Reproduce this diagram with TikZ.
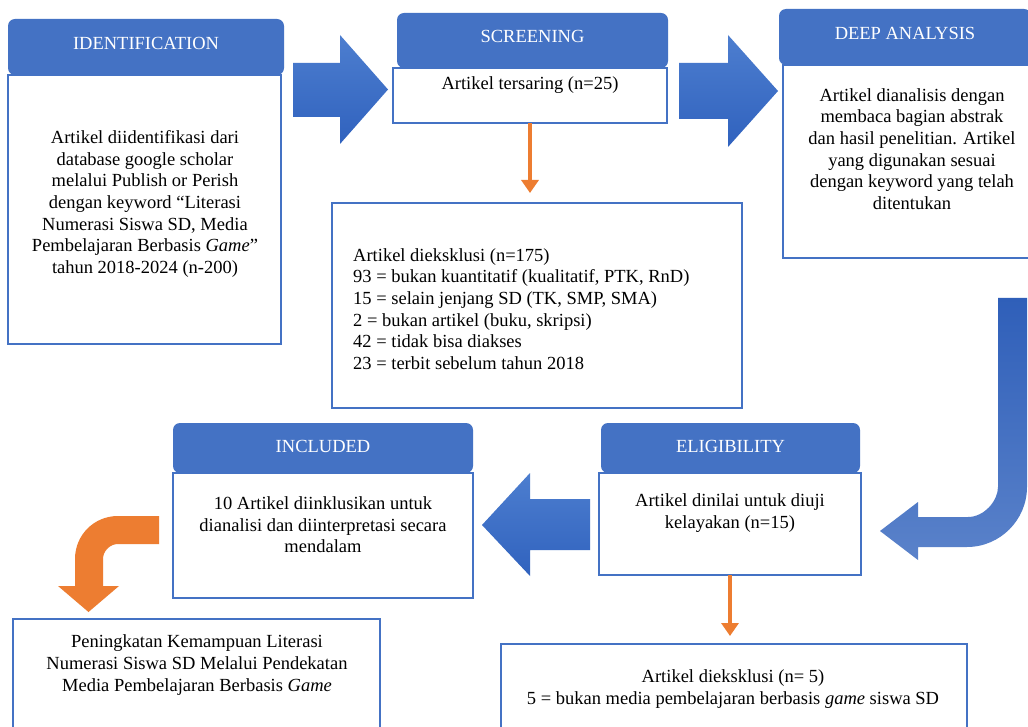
\documentclass[tikz,border=0pt]{standalone}
\usepackage{fontspec}
\setmainfont{Liberation Serif}
\usetikzlibrary{arrows.meta}
\definecolor{hdr}{HTML}{4472C4}
\definecolor{orn}{HTML}{ED7D31}
\definecolor{arrtop}{HTML}{4D7ECF}
\definecolor{arrbot}{HTML}{3062BE}
\definecolor{curtop}{HTML}{2F5FB9}
\definecolor{curbot}{HTML}{5A82CA}
\begin{document}
\begin{tikzpicture}[x=1pt,y=-1pt,
  hdrbox/.style={fill=hdr, draw=none, rounded corners=7pt, text=white,
    font=\fontsize{18.5}{21.6}\selectfont, inner sep=0pt, outer sep=0pt,
    text height=12.3pt, text depth=8pt},
  bodybox/.style={draw=hdr, line width=1.8pt, fill=white, inner sep=0pt, outer sep=0pt},
  txt/.style={font=\fontsize{18.5}{21.6}\selectfont, align=center, inner sep=0pt},
  txtl/.style={font=\fontsize{18.5}{21.6}\selectfont, align=left, inner sep=0pt, anchor=west},
  bigarrow/.style={top color=arrtop, bottom color=arrbot, draw=none},
  thinarrow/.style={draw=orn, line width=3.6pt, -{Triangle[length=13pt,width=17pt]}}
]
\fill[white] (0,0) rectangle (1028,727);
\useasboundingbox (0,0) rectangle (1028,727);

% IDENTIFICATION
\node[bodybox, minimum width=273pt, minimum height=269pt] (idb) at (144.5,209.5) {};
\node[hdrbox, minimum width=276pt, minimum height=56pt] (idh) at (146,47) {IDENTIFICATION};
\node[txt] (idt) at (145,204) {Artikel diidentifikasi dari\\database google scholar\\melalui Publish or Perish\\dengan keyword “Literasi\\Numerasi Siswa SD, Media\\Pembelajaran Berbasis \textit{Game}”\\tahun 2018-2024 (n-200)};

% SCREENING
\node[bodybox, minimum width=274pt, minimum height=55pt] (scrb) at (530,95.5) {};
\node[hdrbox, minimum width=271pt, minimum height=55pt] (scrh) at (532.5,40.5) {SCREENING};
\node[txt] (scrt) at (530,85) {Artikel tersaring (n=25)};

% DEEP ANALYSIS
\node[bodybox, minimum width=250pt, minimum height=193pt] (dab) at (908,161.5) {};
\node[hdrbox, minimum width=252pt, minimum height=56pt] (dah) at (905,37) {DEEP ANALYSIS};
\node[txt] (dat) at (912,149) {Artikel dianalisis dengan\\membaca bagian abstrak\\dan hasil penelitian. Artikel\\yang digunakan sesuai\\dengan keyword yang telah\\ditentukan};

% Exclusion 1
\node[bodybox, minimum width=410pt, minimum height=205pt] (ex1) at (537,305.5) {};
\node[txtl] (ex1t) at (353,309) {Artikel dieksklusi (n=175)\\93 = bukan kuantitatif (kualitatif, PTK, RnD)\\15 = selain jenjang SD (TK, SMP, SMA)\\2 = bukan artikel (buku, skripsi)\\42 = tidak bisa diakses\\23 = terbit sebelum tahun 2018};

% ELIGIBILITY
\node[bodybox, minimum width=262pt, minimum height=102pt] (elb) at (730,524) {};
\node[hdrbox, text depth=4pt, minimum width=259pt, minimum height=50pt] (elh) at (730.5,448) {ELIGIBILITY};
\node[txt] (elt) at (730,513) {Artikel dinilai untuk diuji\\kelayakan (n=15)};

% INCLUDED
\node[bodybox, minimum width=300pt, minimum height=125pt] (inb) at (323,535.5) {};
\node[hdrbox, text depth=4pt, minimum width=300pt, minimum height=50pt] (inh) at (323,448) {INCLUDED};
\node[txt] (int) at (323,525) {10 Artikel diinklusikan untuk\\dianalisi dan diinterpretasi secara\\mendalam};

% Exclusion 2
\node[bodybox, minimum width=466pt, minimum height=92pt] (ex2) at (734,690) {};
\node[txt] (ex2t) at (733,689) {Artikel dieksklusi (n= 5)\\5 = bukan media pembelajaran berbasis \textit{game} siswa SD};

% Final
\node[bodybox, minimum width=367pt, minimum height=116pt] (fin) at (196.5,677) {};
\node[txt] (fint) at (197,665) {Peningkatan Kemampuan Literasi\\Numerasi Siswa SD Melalui Pendekatan\\Media Pembelajaran Berbasis \textit{Game}};

% big block arrows
\shade[bigarrow] (293,63) -- (340,63) -- (340,35) -- (388,89.5) -- (340,144) -- (340,117) -- (293,117) -- cycle;
\shade[bigarrow] (679,63) -- (728,63) -- (728,35) -- (778,91) -- (728,147) -- (728,119) -- (679,119) -- cycle;
\shade[bigarrow] (590,499) -- (530,499) -- (530,473) -- (482,525) -- (530,576) -- (530,550) -- (590,550) -- cycle;
\shade[top color=curtop, bottom color=curbot, draw=none]
  (998,298) -- (1027,298) -- (1027,487) .. controls (1027,520) and (1000,547) .. (967,547)
  -- (918,547) -- (918,560) -- (880,531) -- (918,502) -- (918,517) -- (968,517)
  .. controls (984.5,517) and (998,500.5) .. (998,487) -- cycle;

% orange bent arrow
\fill[orn] (159,516) -- (118,516) .. controls (94,516) and (75,535) .. (75,559)
  -- (75,586) -- (58,586) -- (88.5,612) -- (119,586) -- (103,586) -- (103,559)
  .. controls (103,551) and (110,544) .. (118,544) -- (159,544) -- cycle;

% thin orange arrows
\draw[thinarrow, shorten >=10pt] (scrb.south) -- (scrb.south |- ex1.north);
\draw[thinarrow, shorten >=8pt] (elb.south) -- (elb.south |- ex2.north);
\end{tikzpicture}
\end{document}
